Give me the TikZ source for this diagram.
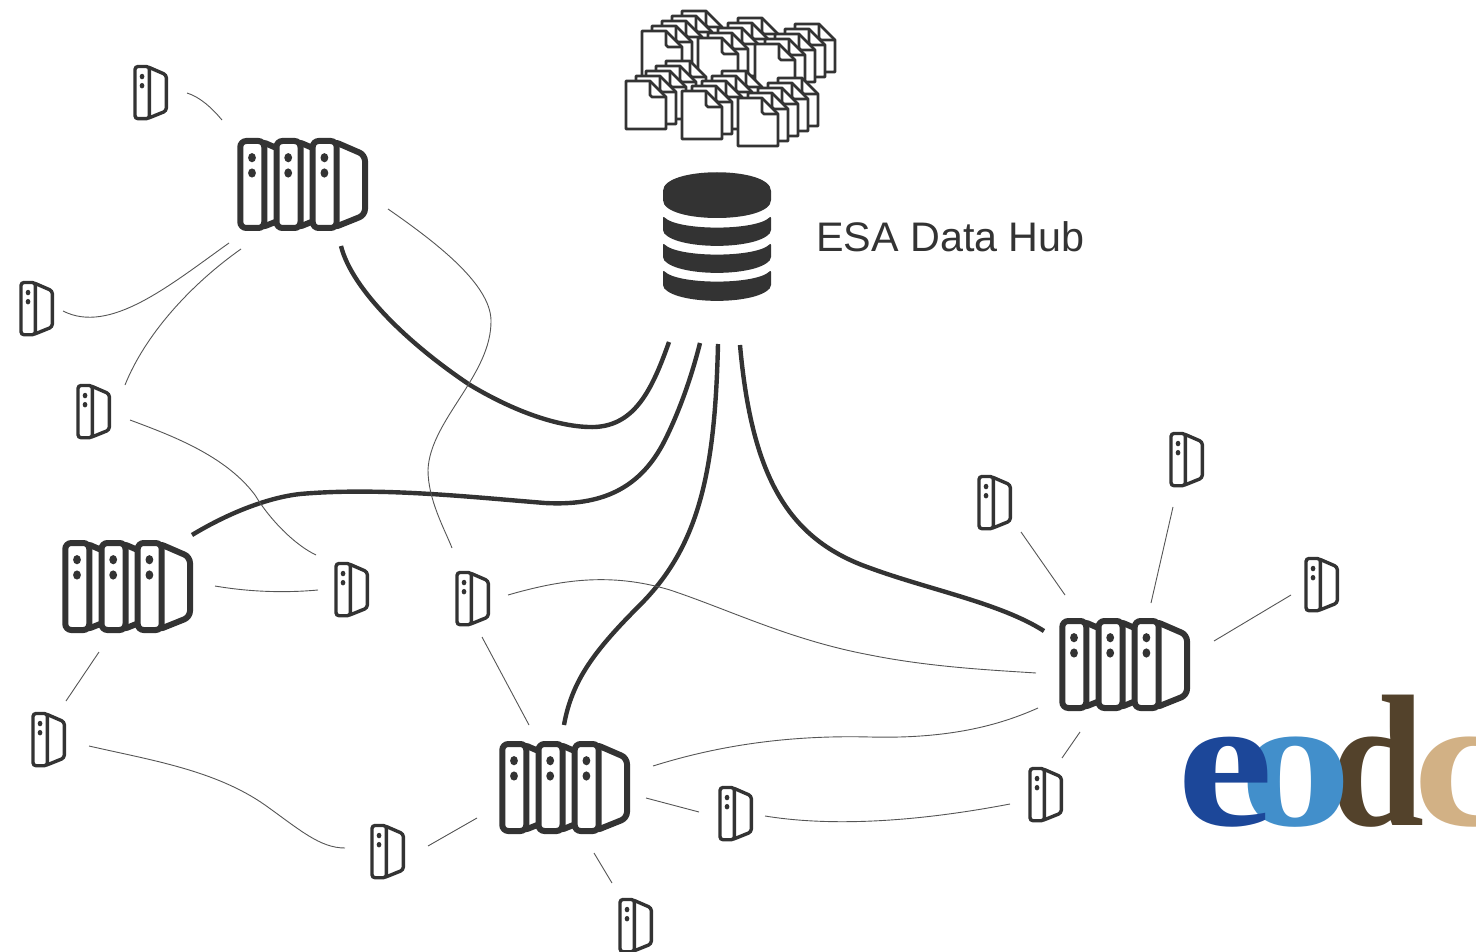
\documentclass[tikz,border=0pt]{standalone}
\usepackage{fontspec}
\setmainfont{Liberation Sans}
\newfontfamily\logofont{Liberation Serif}[BoldFont={Liberation Serif Bold}]
\definecolor{ink}{HTML}{333333}
\definecolor{thinink}{HTML}{555555}
\definecolor{logoE}{HTML}{1C4799}
\definecolor{logoO}{HTML}{428FCB}
\definecolor{logoD}{HTML}{53422B}
\definecolor{logoC}{HTML}{D2B185}
\tikzset{
  hubnode/.style={inner sep=0pt,minimum width=130pt,minimum height=92pt},
  clientnode/.style={inner sep=0pt,minimum width=35pt,minimum height=53pt},
  thick link/.style={draw=ink,line width=4.4pt},
  thin link/.style={draw=thinink,line width=0.9pt},
  logoletter/.style={inner sep=0pt,anchor=base west,transform shape,font=\logofont\bfseries\fontsize{188}{188}\selectfont},
  pics/unit/.style={code={
    \path[draw=ink,fill=white,line join=round,rounded corners=#1] (20,0) -- (52.3,14) -- (52.3,74) -- (20,87) -- cycle;
    \path[draw=ink,fill=white,rounded corners=#1] (0,0) rectangle (24,87);
    \fill[ink] (11.7,16.7) circle[x radius=3.9,y radius=4.6] (11.7,32) circle[x radius=3.9,y radius=4.6];
  }},
  pics/server/.style={code={
    \pic[line width=6pt] at (-62.7,-44) {unit=6pt};
    \pic[line width=6pt] at (-26.5,-44) {unit=6pt};
    \pic[line width=6pt] at (9.7,-44) {unit=6pt};
  }},
  pics/client/.style={code={
    \pic[scale=.6,line width=3.4pt] at (-16,-25.5) {unit=3pt};
  }},
  pics/doc/.style={code={
    \path[draw=ink,fill=white,line width=2.8pt,line join=round] (0,0) -- (24,0) -- (40,16) -- (40,48) -- (0,48) -- cycle;
    \path[draw=ink,line width=2.8pt,line join=round] (24,0) -- (24,14) -- (26,16) -- (40,16);
  }},
}
\begin{document}
\begin{tikzpicture}[x=1pt,y=-1pt]
\useasboundingbox (0,0) rectangle (1476,952);

% document stacks
\foreach \x/\y in {642/31,698/38,755/44,626/81,682/91,738/98}{
  \foreach \k in {4,3,2,1,0}{
    \pic at (\x+10*\k,\y-5*\k) {doc};
  }
}

% database
\node[inner sep=0pt,minimum width=108pt,minimum height=127pt] (db) at (717,237) {};
\fill[ink,rounded corners=2pt] (663,193) .. controls (663,166) and (771,166) .. (771,193) -- (771,198) .. controls (771,224) and (663,224) .. (663,198) -- cycle;
\fill[ink,rounded corners=2pt] (663,216) .. controls (678,231) and (756,231) .. (771,216) -- (771,232) .. controls (755,250) and (679,250) .. (663,232) -- cycle;
\fill[ink,rounded corners=2pt] (663,243) .. controls (678,258) and (756,258) .. (771,243) -- (771,259) .. controls (755,277) and (679,277) .. (663,259) -- cycle;
\fill[ink,rounded corners=2pt] (663,270) .. controls (678,285) and (756,285) .. (771,270) -- (771,287) .. controls (755,305) and (679,305) .. (663,287) -- cycle;
\node[inner sep=0pt,anchor=base west,text=ink,font=\fontsize{41.3}{41.3}\selectfont] (hublabel) at (816,252) {ESA Data Hub};

% servers and clients
\foreach \n/\x/\y in {A/303/185,B/128/587,C/565/788,D/1125/665}{
  \node[hubnode] (\n) at (\x,\y) {};
  \pic at (\n.center) {server};
}
\foreach \n/\x/\y in {c1/151/92,c2/37/308,c3/94/411,c4/352/589,c5/473/598,c6/49/739,c7/388/851,c8/736/813,c9/636/925,c10/1046/794,c11/995/502,c12/1187/459,c13/1322/584}{
  \node[clientnode] (\n) at (\x,\y) {};
  \pic at (\n.center) {client};
}

% thick links
\path[thick link] ([shift={(38,61)}]A.center) .. controls (352,290) and (410,345) .. (470,385) .. controls (520,415) and (565,428) .. (595,427) .. controls (635,425) and (652,390) .. ([shift={(-48,105)}]db.center);
\path[thick link] ([shift={(64,-52)}]B.center) .. controls (225,515) and (265,498) .. (300,494) .. controls (380,487) and (470,497) .. (545,503) .. controls (600,506) and (640,490) .. (665,440) .. controls (680,410) and (692,375) .. ([shift={(-17,106)}]db.center);
\path[thick link] ([shift={(-1,-63)}]C.center) .. controls (572,680) and (595,650) .. (640,605) .. controls (700,545) and (715,470) .. ([shift={(1,107)}]db.center);
\path[thick link] ([shift={(-81,-34)}]D.center) .. controls (1000,603) and (930,590) .. (870,568) .. controls (790,540) and (752,480) .. ([shift={(23,108)}]db.center);

% thin links
\path[thin link] ([shift={(36,1)}]c1.center) .. controls (200,97) and (212,108) .. ([shift={(-81,-65)}]A.center);
\path[thin link] ([shift={(-74,58)}]A.center) .. controls (170,285) and (110,335) .. ([shift={(26,3)}]c2.center);
\path[thin link] ([shift={(-62,64)}]A.center) .. controls (190,285) and (145,335) .. ([shift={(31,-26)}]c3.center);
\path[thin link] ([shift={(85,24)}]A.center) .. controls (440,245) and (490,285) .. (491,320) .. controls (492,375) and (430,420) .. (428,470) .. controls (428,500) and (445,530) .. ([shift={(-21,-50)}]c5.center);
\path[thin link] ([shift={(36,9)}]c3.center) .. controls (170,435) and (225,455) .. (255,495) .. controls (270,520) and (295,545) .. ([shift={(-36,-34)}]c4.center);
\path[thin link] ([shift={(87,-1)}]B.center) .. controls (250,592) and (285,593) .. ([shift={(-34,1)}]c4.center);
\path[thin link] ([shift={(-29,65)}]B.center) -- ([shift={(17,-38)}]c6.center);
\path[thin link] ([shift={(40,7)}]c6.center) .. controls (150,760) and (215,770) .. (265,805) .. controls (300,830) and (320,848) .. ([shift={(-43,-3)}]c7.center);
\path[thin link] ([shift={(40,-5)}]c7.center) -- ([shift={(-88,30)}]C.center);
\path[thin link] ([shift={(9,39)}]c5.center) -- ([shift={(-36,-63)}]C.center);
\path[thin link] ([shift={(35,-3)}]c5.center) .. controls (560,580) and (610,572) .. (670,590) .. controls (730,610) and (790,640) .. (870,655) .. controls (930,667) and (990,670) .. ([shift={(-89,8)}]D.center);
\path[thin link] ([shift={(88,-22)}]C.center) .. controls (720,745) and (790,735) .. (870,737) .. controls (950,739) and (1000,725) .. ([shift={(-87,43)}]D.center);
\path[thin link] ([shift={(81,10)}]C.center) -- ([shift={(-37,-1)}]c8.center);
\path[thin link] ([shift={(29,3)}]c8.center) .. controls (820,825) and (900,825) .. ([shift={(-36,10)}]c10.center);
\path[thin link] ([shift={(29,65)}]C.center) -- ([shift={(-24,-42)}]c9.center);
\path[thin link] ([shift={(16,-36)}]c10.center) -- ([shift={(-45,67)}]D.center);
\path[thin link] ([shift={(26,30)}]c11.center) -- ([shift={(-60,-70)}]D.center);
\path[thin link] ([shift={(-14,48)}]c12.center) -- ([shift={(26,-62)}]D.center);
\path[thin link] ([shift={(-31,11)}]c13.center) -- ([shift={(89,-24)}]D.center);

% logo, cut off by the page edge
\begin{scope}
\clip (0,0) rectangle (1476,952);
\node[logoletter,text=logoC,xscale=1.15] (lc) at (1413,825) {c};
\node[logoletter,text=logoD,xscale=.9] (ld) at (1330,825) {d};
\node[logoletter,text=logoO,xscale=1.2] (lo) at (1239,825) {o};
\node[logoletter,text=logoE,xscale=1.15] (le) at (1177,825) {e};
\end{scope}
\end{tikzpicture}
\end{document}
